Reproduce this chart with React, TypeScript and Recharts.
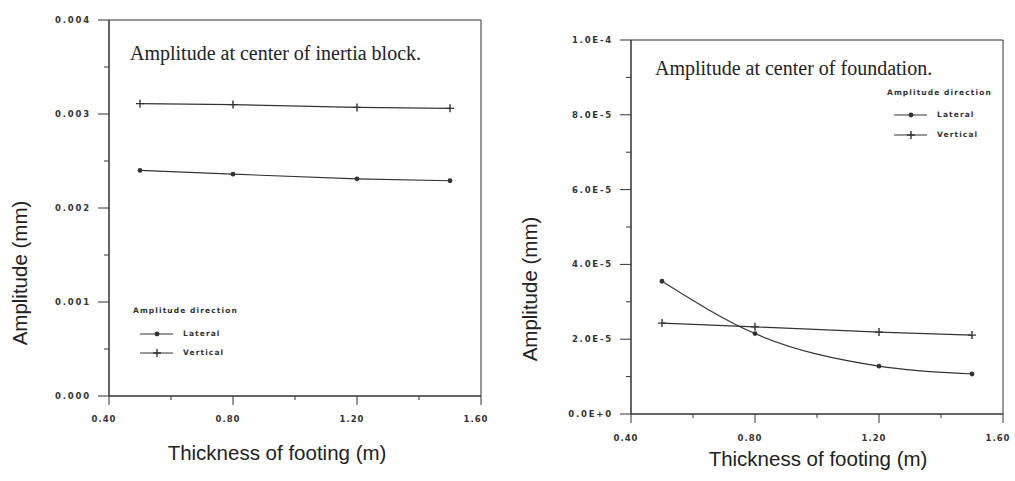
import React from "react";
import { LineChart, Line, XAxis, YAxis, ReferenceArea } from "recharts";

// thickness of footing (m)
const thickness = [0.5, 0.8, 1.2, 1.5];

// amplitude at center of inertia block (mm)
const blockLateral = [0.0024, 0.00236, 0.00231, 0.00229];
const blockVertical = [0.00311, 0.0031, 0.00307, 0.00306];

// amplitude at center of foundation (mm)
const foundLateral = [3.55e-5, 2.15e-5, 1.28e-5, 1.07e-5];
const foundVertical = [2.43e-5, 2.33e-5, 2.19e-5, 2.11e-5];

const xTicks = [0.4, 0.6, 0.8, 1.0, 1.2, 1.4, 1.6];
const xLabels = ["0.40", "", "0.80", "", "1.20", "", "1.60"];

const blockTicks = [0, 0.0005, 0.001, 0.0015, 0.002, 0.0025, 0.003, 0.0035, 0.004];
const blockLabels = ["0.000", "", "0.001", "", "0.002", "", "0.003", "", "0.004"];

const foundTicks = [0, 1e-5, 2e-5, 3e-5, 4e-5, 5e-5, 6e-5, 7e-5, 8e-5, 9e-5, 1e-4];
const foundLabels = ["0.0E+0", "", "2.0E-5", "", "4.0E-5", "", "6.0E-5", "", "8.0E-5", "", "1.0E-4"];

const ink = "#333";
const tickFont = {
  fontFamily: "DejaVu Sans",
  fontWeight: 700,
  fontSize: 8.5,
  letterSpacing: 1.8,
  fill: ink,
};

const blockData = thickness.map((t, i) => ({ t, lateral: blockLateral[i], vertical: blockVertical[i] }));
const foundData = thickness.map((t, i) => ({ t, lateral: foundLateral[i], vertical: foundVertical[i] }));

function YTick(props: any) {
  const { x, y, payload, ticks, labels } = props;
  const label = labels[ticks.indexOf(payload.value)];
  const major = label !== "";
  return (
    <g>
      <line x1={x} x2={x - (major ? 11 : 5)} y1={y} y2={y} stroke={ink} strokeWidth={1} />
      {major && (
        <text x={x - 18} y={y} dy={3} textAnchor="end" style={tickFont}>
          {label}
        </text>
      )}
    </g>
  );
}

function XTick(props: any) {
  const { x, y, payload, labelDy } = props;
  const label = xLabels[xTicks.indexOf(payload.value)];
  const major = label !== "";
  return (
    <g>
      <line x1={x} x2={x} y1={y} y2={y + (major ? 9 : 4)} stroke={ink} strokeWidth={1} />
      {major && (
        <text x={x - 5} y={y + labelDy} textAnchor="middle" style={{ ...tickFont, letterSpacing: 1.0 }}>
          {label}
        </text>
      )}
    </g>
  );
}

function PlusDot(props: any) {
  const { cx, cy } = props;
  return <path d={`M${cx - 4},${cy}H${cx + 4}M${cx},${cy - 4}V${cy + 4}`} stroke={ink} strokeWidth={1.4} />;
}

function RoundDot(props: any) {
  const { cx, cy } = props;
  return <circle cx={cx} cy={cy} r={2.4} fill={ink} />;
}

function LegendBox({ left, top, rows }: { left: number; top: number; rows: number[] }) {
  const small = { fontFamily: "DejaVu Sans", fontWeight: 700, fontSize: 7.5, letterSpacing: 1.1, color: ink, lineHeight: "10px" };
  return (
    <div style={{ position: "absolute", left, top }}>
      <div style={{ ...small, position: "absolute", left: 0, top: -5, whiteSpace: "nowrap" }}>Amplitude direction</div>
      {[
        ["Lateral", "round"],
        ["Vertical", "plus"],
      ].map(([name, kind], i) => (
        <div
          key={name}
          style={{ position: "absolute", left: 7, top: rows[i] - 5, display: "flex", alignItems: "center", whiteSpace: "nowrap" }}
        >
          <svg width={43} height={10}>
            <line x1={0} x2={33} y1={5} y2={5} stroke={ink} strokeWidth={1} />
            {kind === "round" ? (
              <circle cx={17} cy={5} r={2.4} fill={ink} />
            ) : (
              <path d="M13,5H21M17,1V9" stroke={ink} strokeWidth={1.4} />
            )}
          </svg>
          <span style={small}>{name}</span>
        </div>
      ))}
    </div>
  );
}

function Panel({
  data,
  ticks,
  labels,
  max,
  yWidth,
  top,
  right,
  plotH,
  labelDy,
  smooth,
}: {
  data: any[];
  ticks: number[];
  labels: string[];
  max: number;
  yWidth: number;
  top: number;
  right: number;
  plotH: number;
  labelDy: number;
  smooth: boolean;
}) {
  return (
    <LineChart width={505} height={481} data={data} margin={{ top, right, bottom: 0, left: 0 }}>
      <XAxis
        dataKey="t"
        type="number"
        domain={[0.4, 1.6]}
        ticks={xTicks}
        interval={0}
        tickSize={0}
        tickMargin={0}
        tickLine={false}
        tick={(p: any) => <XTick {...p} labelDy={labelDy} />}
        axisLine={{ stroke: ink }}
        height={481 - top - plotH}
      />
      <YAxis
        type="number"
        domain={[0, max]}
        ticks={ticks}
        interval={0}
        width={yWidth}
        tickSize={0}
        tickMargin={0}
        tickLine={false}
        tick={(p: any) => <YTick {...p} ticks={ticks} labels={labels} />}
        axisLine={{ stroke: ink }}
      />
      <ReferenceArea x1={0.4} x2={1.6} y1={0} y2={max} fill="none" stroke={ink} strokeWidth={1} />
      <Line
        dataKey="lateral"
        name="Lateral"
        type={smooth ? "monotone" : "linear"}
        stroke={ink}
        strokeWidth={1.1}
        dot={(p: any) => <RoundDot key={p.index} {...p} />}
        isAnimationActive={false}
      />
      <Line
        dataKey="vertical"
        name="Vertical"
        type="linear"
        stroke={ink}
        strokeWidth={1.1}
        dot={(p: any) => <PlusDot key={p.index} {...p} />}
        isAnimationActive={false}
      />
    </LineChart>
  );
}

const axisTitle = { fontFamily: "Liberation Sans", fontSize: 20.5, color: "#222", whiteSpace: "nowrap" as const };
const plotTitle = { fontFamily: "Liberation Serif", fontSize: 20, color: "#222", whiteSpace: "nowrap" as const };

export default function App() {
  return (
    <div style={{ position: "relative", width: 1015, height: 481, background: "#fff", overflow: "hidden" }}>
      <style>{"body{margin:0}"}</style>
      <div style={{ position: "absolute", left: 0, top: 0 }}>
        <Panel
          data={blockData}
          ticks={blockTicks}
          labels={blockLabels}
          max={0.004}
          yWidth={109}
          top={20}
          right={24}
          plotH={376}
          labelDy={26}
          smooth={false}
        />
      </div>
      <div style={{ position: "absolute", left: 515, top: 0 }}>
        <Panel
          data={foundData}
          ticks={foundTicks}
          labels={foundLabels}
          max={1e-4}
          yWidth={116}
          top={40}
          right={17}
          plotH={374}
          labelDy={27}
          smooth={true}
        />
      </div>

      <div style={{ ...plotTitle, position: "absolute", left: 130, top: 53, transform: "translateY(-50%)" }}>
        Amplitude at center of inertia block.
      </div>
      <div style={{ ...plotTitle, position: "absolute", left: 655, top: 68, transform: "translateY(-50%)" }}>
        Amplitude at center of foundation.
      </div>

      <div style={{ ...axisTitle, position: "absolute", left: 277, top: 453, transform: "translate(-50%, -50%)" }}>
        Thickness of footing (m)
      </div>
      <div style={{ ...axisTitle, position: "absolute", left: 818, top: 459, transform: "translate(-50%, -50%)" }}>
        Thickness of footing (m)
      </div>
      <div style={{ ...axisTitle, position: "absolute", left: 20, top: 273, transform: "translate(-50%, -50%) rotate(-90deg)" }}>
        Amplitude (mm)
      </div>
      <div style={{ ...axisTitle, position: "absolute", left: 530, top: 289, transform: "translate(-50%, -50%) rotate(-90deg)" }}>
        Amplitude (mm)
      </div>

      <LegendBox left={133} top={311} rows={[23, 42]} />
      <LegendBox left={887} top={93} rows={[22, 42]} />
    </div>
  );
}
